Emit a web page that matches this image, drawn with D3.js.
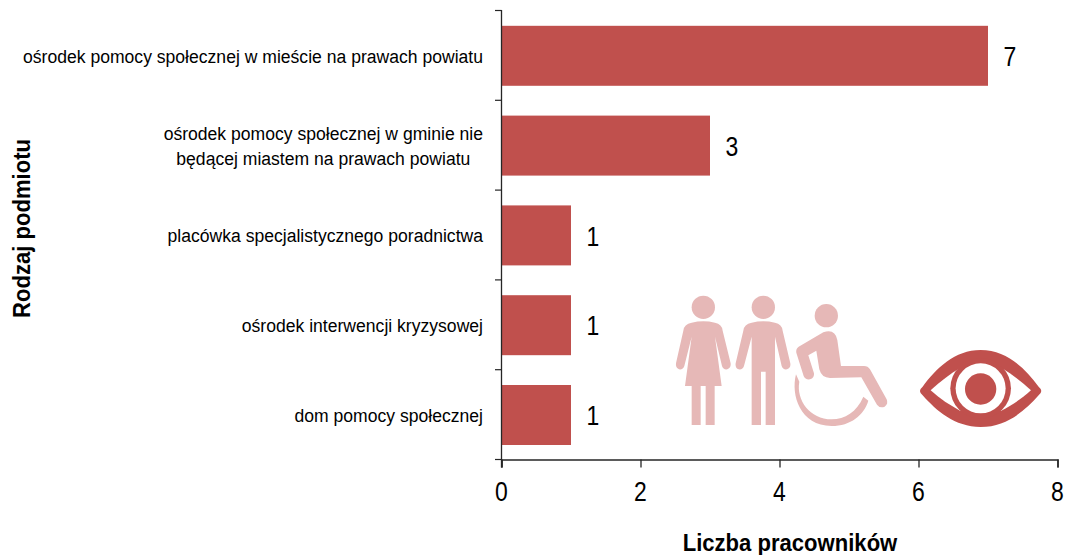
<!DOCTYPE html>
<html><head><meta charset="utf-8">
<script src="https://cdnjs.cloudflare.com/ajax/libs/d3/7.8.5/d3.min.js"></script>
<style>
html,body{margin:0;padding:0;background:#fff}
svg{display:block}
text{font-family:"Liberation Sans",Arial,sans-serif;fill:#000}
</style></head><body>
<svg id="c" width="1066" height="555"></svg>
<script>
const categories = [
  ["ośrodek pomocy społecznej w mieście na prawach powiatu"],
  ["ośrodek pomocy społecznej w gminie nie","będącej miastem na prawach powiatu"],
  ["placówka specjalistycznego poradnictwa"],
  ["ośrodek interwencji kryzysowej"],
  ["dom pomocy społecznej"]
];
const values = [7,3,1,1,1];
const xTicks = [0,2,4,6,8];
const xTitle = "Liczba pracowników";
const yTitle = "Rodzaj podmiotu";

const barColor="#C0504D", paleColor="#E6B8B7", axisColor="#262626";
const svg=d3.select("#c");
const x=d3.scaleLinear().domain([0,8]).range([501.5,1057.5]);
const y=d3.scaleBand().domain(d3.range(categories.length)).range([10.9,459.9]).paddingInner(0.332).paddingOuter(0.166);
const yBottom=459.5;

svg.append("g").selectAll("rect").data(values).join("rect")
  .attr("x",x(0)).attr("y",(d,i)=>y(i)).attr("width",d=>x(d)-x(0)).attr("height",y.bandwidth()).attr("fill",barColor);

const gx=svg.append("g").attr("transform",`translate(0,${yBottom})`)
  .call(d3.axisBottom(x).tickValues(xTicks).tickSize(8).tickPadding(0).tickFormat(d3.format("d")));
gx.select(".domain").attr("stroke",axisColor).attr("stroke-width",1.5);
gx.selectAll(".tick line").attr("stroke",axisColor).attr("stroke-width",1.3);
gx.selectAll(".tick text").remove();

const boundaries=d3.range(categories.length+1).map(i=>10.5+i*y.step());
svg.append("line").attr("x1",x(0)).attr("x2",x(0)).attr("y1",10).attr("y2",yBottom+8).attr("stroke",axisColor).attr("stroke-width",1.3);
svg.append("g").selectAll("line").data(boundaries).join("line")
  .attr("x1",x(0)-6.5).attr("x2",x(0)).attr("y1",d=>d).attr("y2",d=>d).attr("stroke",axisColor).attr("stroke-width",1.2);

function squeezed(px,py,str,size,sx,anchor,weight,rot){
  const t=svg.append("text").attr("transform",`translate(${px},${py})${rot?` rotate(${rot})`:""} scale(${sx},1)`)
    .attr("text-anchor",anchor).attr("font-size",size).text(str);
  if(weight)t.attr("font-weight",weight);
  return t;
}
const catSize=19,catSx=0.925,rightEdge=483;
categories.forEach((lines,i)=>{
  const cy=y(i)+y.bandwidth()/2;
  if(lines.length===1){squeezed(rightEdge,cy+7,lines[0],catSize,catSx,"end");}
  else{
    const t=squeezed(rightEdge,cy-5.3,lines[0],catSize,catSx,"end");
    const w=t.node().getComputedTextLength()*catSx;
    squeezed(rightEdge-w/2,cy+19.7,lines[1],catSize,catSx,"middle");
  }
});
xTicks.forEach(v=>squeezed(x(v),501,String(v),28,0.82,"middle"));
values.forEach((v,i)=>squeezed(x(v)+22,y(i)+y.bandwidth()/2+10.2,String(v),28,0.82,"middle"));
squeezed(790,551,xTitle,24,0.92,"middle","bold");
squeezed(29.5,228.5,yTitle,24,0.92,"middle","bold",-90);

// decorative pictograms (not data)
const ic=svg.append("g").attr("transform","translate(660,280) scale(0.3333)");
const pale=ic.append("g").attr("fill",paleColor);
[[130,82],[310,82],[499,107]].forEach(([a,b])=>pale.append("circle").attr("cx",a).attr("cy",b).attr("r",35));
pale.append("path").attr("d","M95,128 Q130,120 165,128 Q186,132 188,152 L212,250 Q214,264 202,268 Q190,270 186,258 L165,170 L185,318 L164,318 L164,435 L137,435 L137,318 L122,318 L122,435 L95,435 L95,318 L75,318 L95,170 L73,258 Q69,270 57,268 Q46,264 48,250 L70,152 Q72,132 95,128 Z");
pale.append("path").attr("d","M275,128 Q310,120 345,128 Q366,132 368,152 L391,250 Q393,264 381,268 Q369,270 365,258 L345,170 L345,435 L317,435 L317,275 L303,275 L303,435 L275,435 L275,170 L252,258 Q248,270 236,268 Q225,264 227,250 L250,152 Q252,132 275,128 Z");
pale.append("path").attr("d","M416,200 L490,157 Q525,145 532,180 L543,258 L612,258 Q624,258 630,268 L680,358 Q686,372 674,380 Q660,386 651,374 L604,292 L510,294 Q485,294 478,268 L469,212 L445,226 L462,280 Q464,294 450,298 Q436,300 431,288 L409,218 Q407,206 416,200 Z");
pale.append("path").attr("d","M408,283 C392,345 420,438 515,438 C572,438 612,405 625,362 L610,350 C590,396 555,418 515,418 C450,418 408,360 418,305 Z");
const eye=ic.append("g");
eye.append("path").attr("fill",barColor).attr("d","M962,210 C1040,210 1095,265 1136,320 Q1152,333 1136,346 C1095,392 1040,441 962,441 C884,441 829,392 788,346 Q772,333 788,320 C829,265 884,210 962,210 Z");
eye.append("path").attr("fill","#fff").attr("d","M812,331 C840,305 870,282 900,264 L1025,264 C1055,282 1085,305 1113,331 C1085,357 1055,376 1024,392 L900,392 C870,376 840,357 812,331 Z");
eye.append("circle").attr("cx",962).attr("cy",325).attr("r",91).attr("fill",barColor);
eye.append("circle").attr("cx",962).attr("cy",325).attr("r",75).attr("fill","#fff");
eye.append("circle").attr("cx",962).attr("cy",327).attr("r",47).attr("fill",barColor);
</script>
</body></html>
